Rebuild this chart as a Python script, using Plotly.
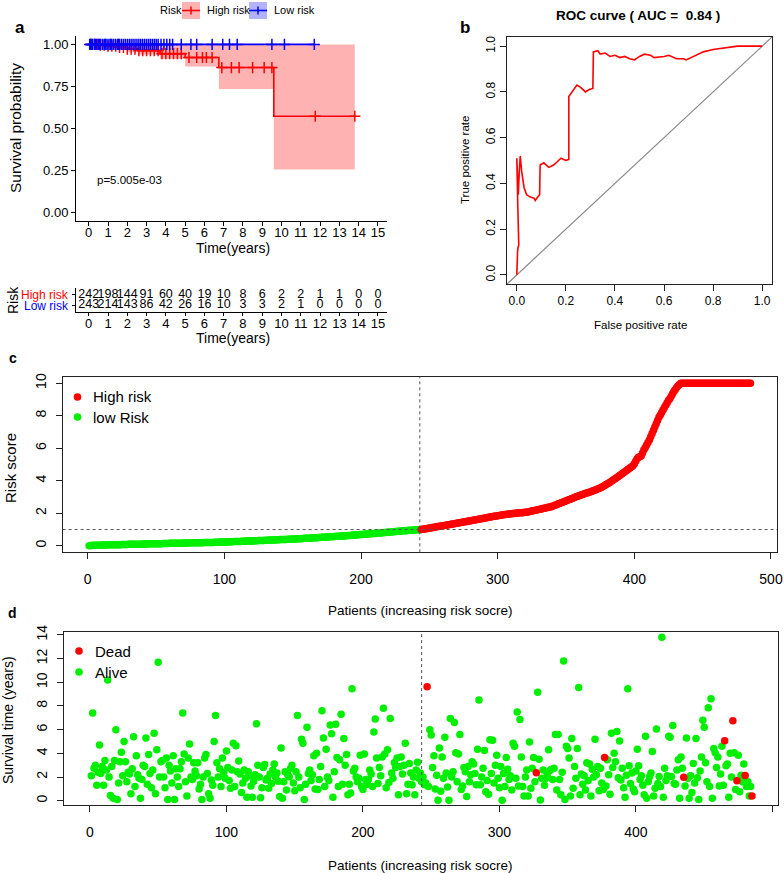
import plotly.graph_objects as go

W, H = 784, 873
def px(x): return x / W
def py(y): return 1 - y / H

FONT = "Liberation Sans, Arial, Helvetica, sans-serif"
RED = "#FF0000"
GREEN = "#00EE00"
BLUE = "#0000FF"

# ---------------- Panel a : Kaplan-Meier ----------------
high_times = [0, 0.5, 1.0, 1.5, 2.0, 2.6, 3.7, 5.0, 6.75, 9.6, 13.8]
high_surv  = [1.0, 0.995, 0.99, 0.982, 0.972, 0.963, 0.945, 0.922, 0.862, 0.572, 0.572]
high_lower = [1.0, 0.985, 0.977, 0.966, 0.953, 0.94, 0.915, 0.868, 0.735, 0.255, 0.255]
high_upper = [1.0, 1.0, 1.0, 1.0, 1.0, 1.0, 1.0, 1.0, 1.0, 1.0, 1.0]
low_times = [0, 11.7]
low_surv = [1.0, 1.0]
high_censor = [0.1, 0.3, 0.45, 0.6, 0.8, 1.0, 1.2, 1.4, 1.6, 1.8, 2.0, 2.2, 2.4, 2.6, 2.8,
               3.0, 3.2, 3.4, 3.6, 3.8, 4.0, 4.2, 4.4, 4.6, 4.8, 5.2, 5.6, 5.9, 6.1, 6.4,
               6.9, 7.4, 7.8, 8.5, 9.1, 9.5, 11.75, 13.8]
low_censor = [0.05, 0.1, 0.15, 0.2, 0.3, 0.35, 0.4, 0.5, 0.55, 0.6, 0.7, 0.8, 0.85, 0.9, 1.0,
              1.1, 1.15, 1.2, 1.3, 1.4, 1.5, 1.55, 1.6, 1.7, 1.8, 1.9, 2.0, 2.1, 2.2, 2.3,
              2.4, 2.5, 2.6, 2.7, 2.8, 2.9, 3.0, 3.1, 3.2, 3.3, 3.4, 3.5, 3.6, 3.75, 3.9,
              4.05, 4.2, 4.35, 4.8, 5.3, 5.6, 6.4, 6.95, 7.3, 7.7, 9.5, 10.15, 11.7]
table_times = list(range(16))
high_at_risk = [242, 198, 144, 91, 60, 40, 19, 10, 8, 6, 2, 2, 1, 1, 0, 0]
low_at_risk = [243, 214, 143, 86, 42, 26, 16, 10, 3, 3, 2, 1, 0, 0, 0, 0]
p_value_text = "p=5.005e-03"

# ---------------- Panel b : ROC ----------------
fpr = [0.0, 0.0, 0.003, 0.005, 0.008, 0.004, 0.0, 0.002, 0.006, 0.01, 0.014, 0.02, 0.03, 0.04,
       0.055, 0.07, 0.075, 0.085, 0.09, 0.093, 0.095, 0.11, 0.13, 0.15, 0.17, 0.18, 0.2, 0.212,
       0.212, 0.225, 0.24, 0.245, 0.26, 0.27, 0.28, 0.295, 0.31, 0.312, 0.33, 0.34, 0.36, 0.38,
       0.4, 0.42, 0.44, 0.46, 0.48, 0.5, 0.52, 0.545, 0.56, 0.6, 0.62, 0.65, 0.68, 0.69, 0.72,
       0.76, 0.8, 0.84, 0.88, 0.9, 0.95, 1.0]
tpr = [0.0, 0.07, 0.1, 0.12, 0.13, 0.3, 0.51, 0.42, 0.35, 0.45, 0.52, 0.45, 0.38, 0.35,
       0.34, 0.335, 0.325, 0.34, 0.35, 0.35, 0.48, 0.49, 0.47, 0.48, 0.5, 0.51, 0.5, 0.505,
       0.78, 0.8, 0.82, 0.83, 0.82, 0.81, 0.8, 0.81, 0.815, 0.975, 0.98, 0.965, 0.97, 0.955,
       0.96, 0.95, 0.955, 0.945, 0.94, 0.955, 0.965, 0.96, 0.95, 0.955, 0.96, 0.945, 0.945,
       0.94, 0.955, 0.975, 0.985, 0.99, 0.995, 1.0, 1.0, 1.0]
roc_title = "ROC curve ( AUC =  0.84 )"

# ---------------- Panel c : risk score ----------------
low_scores = [
    0.01, 0.02, 0.02, 0.03, 0.03, 0.03, 0.04, 0.04, 0.04, 0.04,
    0.05, 0.05, 0.05, 0.05, 0.06, 0.06, 0.06, 0.06, 0.06, 0.07,
    0.07, 0.07, 0.07, 0.07, 0.08, 0.08, 0.08, 0.08, 0.08, 0.09,
    0.09, 0.09, 0.09, 0.09, 0.10, 0.10, 0.10, 0.10, 0.10, 0.11,
    0.11, 0.11, 0.11, 0.11, 0.12, 0.12, 0.12, 0.12, 0.12, 0.13,
    0.13, 0.13, 0.13, 0.13, 0.14, 0.14, 0.14, 0.14, 0.14, 0.15,
    0.15, 0.15, 0.15, 0.15, 0.16, 0.16, 0.16, 0.16, 0.16, 0.17,
    0.17, 0.17, 0.17, 0.17, 0.18, 0.18, 0.18, 0.18, 0.18, 0.19,
    0.19, 0.19, 0.19, 0.19, 0.20, 0.20, 0.20, 0.20, 0.21, 0.21,
    0.21, 0.21, 0.22, 0.22, 0.22, 0.22, 0.23, 0.23, 0.23, 0.23,
    0.24, 0.24, 0.24, 0.25, 0.25, 0.25, 0.26, 0.26, 0.26, 0.27,
    0.27, 0.27, 0.28, 0.28, 0.28, 0.29, 0.29, 0.29, 0.30, 0.30,
    0.30, 0.31, 0.31, 0.31, 0.32, 0.32, 0.32, 0.33, 0.33, 0.34,
    0.34, 0.34, 0.35, 0.35, 0.35, 0.36, 0.36, 0.37, 0.37, 0.37,
    0.38, 0.38, 0.39, 0.39, 0.39, 0.40, 0.40, 0.41, 0.41, 0.42,
    0.42, 0.42, 0.43, 0.43, 0.44, 0.44, 0.45, 0.45, 0.46, 0.46,
    0.47, 0.47, 0.48, 0.48, 0.49, 0.49, 0.50, 0.50, 0.51, 0.51,
    0.52, 0.52, 0.53, 0.53, 0.54, 0.54, 0.55, 0.56, 0.56, 0.57,
    0.57, 0.58, 0.58, 0.59, 0.60, 0.60, 0.61, 0.61, 0.62, 0.63,
    0.63, 0.64, 0.65, 0.65, 0.66, 0.67, 0.67, 0.68, 0.69, 0.69,
    0.70, 0.71, 0.71, 0.72, 0.73, 0.74, 0.74, 0.75, 0.76, 0.76,
    0.77, 0.78, 0.79, 0.79, 0.80, 0.81, 0.82, 0.82, 0.83, 0.84,
    0.85, 0.85, 0.86, 0.87, 0.88, 0.88, 0.89, 0.90, 0.91, 0.91,
    0.92, 0.93, 0.93, 0.94, 0.95, 0.95, 0.96, 0.96, 0.97, 0.97,
    0.98, 0.98, 0.99]
high_scores = [
    1.00, 1.01, 1.03, 1.04, 1.06, 1.07, 1.09, 1.10, 1.12, 1.13,
    1.15, 1.16, 1.18, 1.19, 1.21, 1.22, 1.24, 1.25, 1.27, 1.28,
    1.30, 1.31, 1.33, 1.34, 1.36, 1.37, 1.39, 1.40, 1.42, 1.43,
    1.45, 1.46, 1.48, 1.49, 1.51, 1.52, 1.54, 1.55, 1.57, 1.58,
    1.60, 1.62, 1.63, 1.65, 1.66, 1.68, 1.70, 1.71, 1.73, 1.75,
    1.76, 1.78, 1.79, 1.81, 1.82, 1.84, 1.85, 1.87, 1.88, 1.90,
    1.91, 1.92, 1.93, 1.94, 1.95, 1.96, 1.97, 1.98, 1.99, 2.00,
    2.01, 2.02, 2.03, 2.04, 2.04, 2.05, 2.06, 2.07, 2.08, 2.10,
    2.12, 2.14, 2.16, 2.17, 2.19, 2.21, 2.23, 2.25, 2.27, 2.29,
    2.31, 2.33, 2.35, 2.37, 2.38, 2.40, 2.43, 2.47, 2.50, 2.53,
    2.57, 2.60, 2.63, 2.67, 2.70, 2.73, 2.77, 2.80, 2.83, 2.87,
    2.90, 2.93, 2.97, 3.00, 3.03, 3.06, 3.09, 3.12, 3.15, 3.18,
    3.21, 3.24, 3.27, 3.30, 3.33, 3.36, 3.39, 3.42, 3.45, 3.49,
    3.52, 3.55, 3.60, 3.65, 3.70, 3.75, 3.80, 3.85, 3.90, 3.95,
    4.01, 4.07, 4.13, 4.19, 4.25, 4.31, 4.37, 4.43, 4.49, 4.55,
    4.62, 4.68, 4.74, 4.80, 4.86, 4.93, 5.05, 5.20, 5.35, 5.45,
    5.48, 5.52, 5.70, 5.90, 6.05, 6.20, 6.35, 6.50, 6.70, 6.90,
    7.10, 7.30, 7.50, 7.70, 7.90, 8.05, 8.20, 8.35, 8.50, 8.65,
    8.80, 8.95, 9.05, 9.20, 9.35, 9.50, 9.62, 9.74, 9.84, 9.92,
    10, 10, 10, 10, 10, 10, 10, 10, 10, 10,
    10, 10, 10, 10, 10, 10, 10, 10, 10, 10,
    10, 10, 10, 10, 10, 10, 10, 10, 10, 10,
    10, 10, 10, 10, 10, 10, 10, 10, 10, 10,
    10, 10, 10, 10, 10, 10, 10, 10, 10, 10,
    10, 10]
risk_cutoff = 1.0

# ---------------- Panel d : survival time ----------------
surv_time = [
    2.1, 7.4, 2.75, 3.0, 1.3, 2.4, 4.7, 2.3, 2.9, 1.3,
    3.4, 2.6, 10.2, 2.0, 0.45, 2.9, 0.2, 3.4, 6.0, 0.1,
    1.5, 3.3, 4.1, 2.1, 5.0, 3.3, 1.6, 2.4, 2.25, 0.6,
    2.7, 5.4, 1.2, 3.8, 2.2, 1.9, 0.2, 1.8, 3.0, 2.9,
    5.3, 1.4, 3.9, 2.3, 1.1, 2.6, 5.7, 0.6, 4.3, 11.7,
    2.0, 3.3, 3.4, 2.0, 1.1, 3.6, 0.1, 3.0, 2.5, 1.5,
    3.8, 0.1, 2.7, 2.0, 1.2, 2.7, 3.3, 7.4, 3.95, 1.6,
    0.4, 3.6, 4.8, 2.0, 1.8, 3.2, 2.5, 2.1, 3.2, 1.0,
    1.4, 0.1, 2.0, 3.6, 3.9, 2.3, 0.6, 0.2, 1.75, 1.3,
    5.0, 7.2, 3.2, 2.0, 2.7, 1.2, 3.6, 2.4, 1.9, 4.2,
    2.8, 1.7, 1.05, 2.6, 4.85, 1.2, 4.65, 2.45, 3.35, 2.25,
    0.7, 1.5, 2.6, 1.9, 0.3, 2.45, 2.1, 1.25, 0.3, 1.65,
    2.2, 6.5, 3.0, 2.0, 0.25, 1.1, 2.8, 3.05, 1.75, 1.9,
    1.05, 2.25, 1.45, 2.6, 3.1, 2.0, 2.35, 1.65, 0.35, 4.45,
    0.2, 1.6, 2.45, 0.9, 2.2, 2.03, 2.74, 3.0, 1.5, 0.85,
    2.45, 7.2, 2.0, 1.1, 5.2, 4.85, 0.1, 1.4, 6.2, 2.3,
    2.6, 1.7, 2.2, 3.8, 1.0, 4.0, 0.95, 1.8, 2.9, 7.6,
    5.3, 1.2, 4.35, 2.0, 1.7, 6.4, 5.65, 0.3, 2.45, 6.45,
    3.65, 1.2, 3.45, 7.3, 1.4, 5.25, 3.0, 3.9, 0.5, 1.4,
    0.65, 9.45, 2.5, 2.75, 2.0, 1.6, 1.9, 3.85, 1.2, 0.95,
    3.95, 1.8, 1.4, 1.8, 2.6, 2.25, 1.2, 5.8, 6.9, 3.6,
    1.45, 2.8, 2.1, 3.7, 7.8, 3.95, 1.1, 4.3, 1.55, 6.95,
    2.35, 1.9, 3.2, 2.8, 3.6, 0.5, 2.9, 3.7, 2.25, 3.0,
    4.85, 0.6, 1.4, 3.15, 2.35, 1.35, 2.0, 0.5, 2.6, 3.25,
    1.9, 2.35, 1.6, 2.0, 1.35, 1.5, 9.63, 1.2, 6.0, 5.55,
    2.8, 3.8, 1.0, 2.15, 0.05, 4.45, 0.8, 3.7, 1.9, 5.35,
    2.35, 1.15, 0.05, 6.95, 2.0, 2.45, 6.6, 4.05, 1.6, 3.95,
    5.6, 0.95, 1.25, 2.8, 2.45, 0.35, 2.9, 1.6, 2.2, 3.3,
    3.1, 2.3, 1.35, 4.35, 8.5, 1.35, 2.0, 2.75, 4.25, 0.75,
    1.7, 0.55, 5.15, 2.3, 5.1, 1.5, 3.0, 3.85, 1.9, 1.1,
    2.9, 0.05, 2.3, 1.2, 3.65, 2.65, 1.8, 2.1, 0.9, 4.85,
    4.6, 1.9, 7.5, 1.25, 6.85, 3.7, 1.2, 0.4, 2.0, 2.6,
    0.4, 4.95, 1.05, 2.75, 3.65, 1.6, 2.37, 9.15, 3.5, 0.06,
    1.9, 2.6, 1.3, 1.9, 2.2, 4.3, 2.55, 2.65, 1.8, 2.75,
    5.6, 0.9, 5.6, 1.8, 0.5, 2.4, 11.8, 0.1, 4.6, 4.4,
    3.6, 0.4, 5.25, 1.05, 2.9, 1.9, 4.4, 9.55, 0.5, 2.25,
    1.4, 2.1, 0.9, 3.2, 1.7, 3.1, 0.4, 2.65, 2.0, 5.2,
    2.2, 2.9, 0.85, 2.75, 1.5, 0.95, 3.66, 1.25, 3.45, 2.2,
    0.55, 5.7, 2.8, 4.0, 3.3, 5.85, 1.95, 5.05, 1.75, 2.75,
    1.1, 0.3, 2.15, 9.45, 2.95, 1.45, 2.35, 1.0, 0.75, 2.5,
    4.35, 2.95, 1.8, 2.1, 1.3, 0.5, 5.45, 0.2, 1.6, 2.05,
    2.35, 4.15, 0.4, 1.05, 6.05, 1.45, 2.05, 1.2, 13.8, 0.3,
    2.75, 1.7, 2.1, 5.45, 5.35, 2.05, 6.35, 1.45, 1.4, 2.6,
    3.45, 0.2, 3.7, 2.75, 1.98, 1.25, 5.3, 1.9, 0.2, 2.1,
    0.7, 3.15, 1.5, 5.25, 1.95, 0.1, 2.5, 3.7, 6.8, 6.2,
    3.2, 1.6, 7.85, 1.2, 8.6, 0.2, 4.4, 4.05, 2.8, 3.7,
    1.25, 2.25, 4.6, 1.3, 5.07, 2.95, 3.1, 0.3, 4.0, 2.0,
    6.76, 4.05, 0.95, 1.69, 3.85, 0.75, 2.15, 1.6, 3.1, 2.14,
    1.2, 1.6, 0.4, 1.2, 0.4]
dead_patients = [247, 327, 377, 435, 465, 471, 474, 480, 485]

# ================= build figure =================
fig = go.Figure()

def step_value(t, times, vals):
    v = vals[0]
    for tt, vv in zip(times, vals):
        if tt <= t:
            v = vv
    return v

# CI band polygon for high risk
bx, by = [], []
for i in range(len(high_times) - 1):
    bx += [high_times[i], high_times[i + 1]]
    by += [high_upper[i], high_upper[i]]
for i in reversed(range(len(high_times) - 1)):
    bx += [high_times[i + 1], high_times[i]]
    by += [high_lower[i], high_lower[i]]
fig.add_trace(go.Scatter(x=bx, y=by, fill="toself", fillcolor="rgba(255,0,0,0.3)",
                         line=dict(width=0), mode="lines", xaxis="x", yaxis="y",
                         hoverinfo="skip", showlegend=False))
fig.add_trace(go.Scatter(x=high_times, y=high_surv, mode="lines", line_shape="hv",
                         line=dict(color=RED, width=1.6), xaxis="x", yaxis="y", showlegend=False))
fig.add_trace(go.Scatter(x=high_censor, y=[step_value(t, high_times, high_surv) for t in high_censor],
                         mode="markers", marker=dict(symbol="cross-thin", size=8,
                         line=dict(color=RED, width=1.5)), xaxis="x", yaxis="y", showlegend=False))
fig.add_trace(go.Scatter(x=low_times, y=low_surv, mode="lines", line_shape="hv",
                         line=dict(color=BLUE, width=1.6), xaxis="x", yaxis="y", showlegend=False))
fig.add_trace(go.Scatter(x=low_censor, y=[step_value(t, low_times, low_surv) for t in low_censor],
                         mode="markers", marker=dict(symbol="cross-thin", size=8,
                         line=dict(color=BLUE, width=1.5)), xaxis="x", yaxis="y", showlegend=False))

# risk table
fig.add_trace(go.Scatter(x=table_times, y=[2] * len(table_times), text=[str(v) for v in high_at_risk],
                         mode="text", textfont=dict(size=12.5, color="black", family=FONT),
                         xaxis="x2", yaxis="y2", showlegend=False))
fig.add_trace(go.Scatter(x=table_times, y=[1] * len(table_times), text=[str(v) for v in low_at_risk],
                         mode="text", textfont=dict(size=12.5, color="black", family=FONT),
                         xaxis="x2", yaxis="y2", showlegend=False))

# ROC
fig.add_trace(go.Scatter(x=fpr, y=tpr, mode="lines", line=dict(color=RED, width=1.6),
                         xaxis="x3", yaxis="y3", showlegend=False))

# risk score
n_low = len(low_scores)
n_all = n_low + len(high_scores)
fig.add_trace(go.Scatter(x=list(range(1, n_low + 1)), y=low_scores, mode="markers",
                         marker=dict(color=GREEN, size=7.5), xaxis="x4", yaxis="y4", showlegend=False))
fig.add_trace(go.Scatter(x=list(range(n_low + 1, n_all + 1)), y=high_scores, mode="markers",
                         marker=dict(color=RED, size=7.5), xaxis="x4", yaxis="y4", showlegend=False))

# survival status
alive_x = [i + 1 for i in range(len(surv_time)) if (i + 1) not in dead_patients]
alive_y = [surv_time[i - 1] for i in alive_x]
dead_y = [surv_time[i - 1] for i in dead_patients]
fig.add_trace(go.Scatter(x=alive_x, y=alive_y, mode="markers", marker=dict(color=GREEN, size=7.5),
                         xaxis="x5", yaxis="y5", showlegend=False))
fig.add_trace(go.Scatter(x=dead_patients, y=dead_y, mode="markers", marker=dict(color=RED, size=7.5),
                         xaxis="x5", yaxis="y5", showlegend=False))

# ---------- axes ----------
def gg_axis(**kw):
    d = dict(showline=True, linecolor="black", linewidth=1, ticks="outside", ticklen=4,
             tickcolor="black", tickwidth=1, showgrid=False, zeroline=False,
             tickfont=dict(size=13, color="black", family=FONT))
    d.update(kw)
    return d

def r_axis(**kw):
    d = dict(showline=True, linecolor="#222", linewidth=1, mirror=True, ticks="outside", ticklen=6,
             tickcolor="#222", tickwidth=1, showgrid=False, zeroline=False,
             tickfont=dict(size=13, color="black", family=FONT))
    d.update(kw)
    return d

layout_axes = dict(
    xaxis=gg_axis(domain=[px(76), px(387)], range=[-0.66, 15.47], anchor="y",
                  tickmode="array", tickvals=table_times, ticklabelstandoff=-4),
    yaxis=gg_axis(domain=[py(220.7), py(36)], range=[-0.05, 1.05], anchor="x",
                  tickmode="array", tickvals=[0, 0.25, 0.5, 0.75, 1.0],
                  ticktext=["0.00", "0.25", "0.50", "0.75", "1.00"]),
    xaxis2=gg_axis(domain=[px(76), px(387)], range=[-0.66, 15.47], anchor="y2",
                   tickmode="array", tickvals=table_times, ticklen=3, ticklabelstandoff=-3),
    yaxis2=gg_axis(domain=[py(311.7), py(288)], range=[0.4, 2.6], anchor="x2",
                   tickmode="array", tickvals=[1, 2], showticklabels=False, ticklen=3),
    xaxis3=r_axis(domain=[px(507), px(772)], range=[-0.04, 1.04], anchor="y3",
                  tickmode="array", tickvals=[0, 0.2, 0.4, 0.6, 0.8, 1.0],
                  ticktext=["0.0", "0.2", "0.4", "0.6", "0.8", "1.0"],
                  tickfont=dict(size=12, color="black", family=FONT)),
    yaxis3=r_axis(domain=[py(284), py(37)], range=[-0.04, 1.04], anchor="x3",
                  tickmode="array", tickvals=[0, 0.2, 0.4, 0.6, 0.8, 1.0],
                  ticktext=["0.0", "0.2", "0.4", "0.6", "0.8", "1.0"], tickangle=-90,
                  tickfont=dict(size=12, color="black", family=FONT)),
    xaxis4=r_axis(domain=[px(62.6), px(777)], range=[-18.4, 504.4], anchor="y4",
                  tickmode="array", tickvals=[0, 100, 200, 300, 400, 500], ticklabelstandoff=8,
                  tickfont=dict(size=14, color="black", family=FONT)),
    yaxis4=r_axis(domain=[py(552.3), py(376.7)], range=[-0.4, 10.4], anchor="x4",
                  tickmode="array", tickvals=[0, 2, 4, 6, 8, 10], tickangle=-90, ticklabelstandoff=4,
                  tickfont=dict(size=14, color="black", family=FONT)),
    xaxis5=r_axis(domain=[px(64), px(777.5)], range=[-19.0, 503.7], anchor="y5",
                  tickmode="array", tickvals=[0, 100, 200, 300, 400, 500], ticklabelstandoff=8,
                  tickfont=dict(size=14, color="black", family=FONT)),
    yaxis5=r_axis(domain=[py(805), py(631.7)], range=[-0.36, 14.27], anchor="x5",
                  tickmode="array", tickvals=[0, 2, 4, 6, 8, 10, 12, 14], tickangle=-90, ticklabelstandoff=4,
                  tickfont=dict(size=14, color="black", family=FONT)),
)

# ---------- shapes ----------
shapes = [
    dict(type="line", xref="x3", yref="y3", x0=-0.04, y0=-0.04, x1=1.04, y1=1.04,
         line=dict(color="#888888", width=1.2), layer="below"),
    dict(type="line", xref="x4", yref="y4 domain", x0=n_low, x1=n_low, y0=0, y1=1,
         line=dict(color="#555555", width=1, dash="3px,3px")),
    dict(type="line", xref="x4 domain", yref="y4", x0=0, x1=1, y0=risk_cutoff, y1=risk_cutoff,
         line=dict(color="#555555", width=1, dash="3px,3px")),
    dict(type="line", xref="x5", yref="y5 domain", x0=n_low, x1=n_low, y0=0, y1=1,
         line=dict(color="#555555", width=1, dash="3px,3px")),
    dict(type="rect", xref="paper", yref="paper", x0=px(182), x1=px(200), y0=py(19), y1=py(2),
         fillcolor="rgba(255,0,0,0.3)", line=dict(width=0)),
    dict(type="line", xref="paper", yref="paper", x0=px(182), x1=px(200), y0=py(10.5), y1=py(10.5),
         line=dict(color=RED, width=1.6)),
    dict(type="line", xref="paper", yref="paper", x0=px(191), x1=px(191), y0=py(6.5), y1=py(14.5),
         line=dict(color=RED, width=1.5)),
    dict(type="rect", xref="paper", yref="paper", x0=px(249), x1=px(267), y0=py(19), y1=py(2),
         fillcolor="rgba(0,0,255,0.3)", line=dict(width=0)),
    dict(type="line", xref="paper", yref="paper", x0=px(249), x1=px(267), y0=py(10.5), y1=py(10.5),
         line=dict(color=BLUE, width=1.6)),
    dict(type="line", xref="paper", yref="paper", x0=px(258), x1=px(258), y0=py(6.5), y1=py(14.5),
         line=dict(color=BLUE, width=1.5)),
]

def dot(cx, cy, color, r=3.8):
    return dict(type="circle", xref="paper", yref="paper", x0=px(cx - r), x1=px(cx + r),
                y0=py(cy + r), y1=py(cy - r), fillcolor=color, line=dict(width=0))

shapes += [dot(77.5, 397, RED), dot(77.5, 417, GREEN), dot(79, 651, RED), dot(79, 672, GREEN)]

# ---------- annotations ----------
def ann(text, x, y, size=13, xanchor="center", yanchor="middle", color="black", angle=0, bold=False):
    t = f"<b>{text}</b>" if bold else text
    return dict(text=t, x=px(x), y=py(y), xref="paper", yref="paper", showarrow=False,
                xanchor=xanchor, yanchor=yanchor, textangle=angle,
                font=dict(size=size, color=color, family=FONT))

annotations = [
    ann("a", 20, 28, size=17, bold=True),
    ann("Risk", 158, 10.5, size=11, xanchor="left"),
    ann("High risk", 205, 10.5, size=11, xanchor="left"),
    ann("Low risk", 272, 10.5, size=11, xanchor="left"),
    ann(p_value_text, 95, 180, size=11.5, xanchor="left"),
    ann("Survival probability", 15, 128, size=15.5, angle=-90),
    ann("Time(years)", 233, 248, size=14),
    ann("High risk", 71, 295, size=12, xanchor="right", color=RED),
    ann("Low risk", 71, 306, size=12, xanchor="right", color=BLUE),
    ann("Risk", 13, 300, size=14, angle=-90),
    ann("Time(years)", 233, 338, size=14),
    ann("b", 465, 27, size=17, bold=True),
    ann(roc_title, 638, 15, size=13.5, bold=True),
    ann("True positive rate", 465, 160, size=11.5, angle=-90),
    ann("False positive rate", 640, 325, size=11.5),
    ann("c", 13, 358, size=14, bold=True),
    ann("High risk", 91, 397, size=15, xanchor="left"),
    ann("low Risk", 91, 417, size=15, xanchor="left"),
    ann("Risk score", 10, 468, size=15, angle=-90),
    ann("Patients (increasing risk socre)", 420, 610, size=13.5),
    ann("d", 12.5, 613, size=14, bold=True),
    ann("Dead", 93, 651, size=15, xanchor="left"),
    ann("Alive", 93, 672, size=15, xanchor="left"),
    ann("Survival time (years)", 8, 720, size=14, angle=-90),
    ann("Patients (increasing risk socre)", 420, 865, size=13.5),
]

fig.update_layout(
    width=W, height=H, margin=dict(l=0, r=0, t=0, b=0, autoexpand=False),
    paper_bgcolor="white", plot_bgcolor="white",
    font=dict(family=FONT, color="black"),
    shapes=shapes, annotations=annotations, showlegend=False,
    **layout_axes,
)

fig.write_html("out.html", config={"displayModeBar": False},
               post_script="document.body.style.margin='0';document.body.style.padding='0';"
                           "document.body.style.overflow='hidden';")
